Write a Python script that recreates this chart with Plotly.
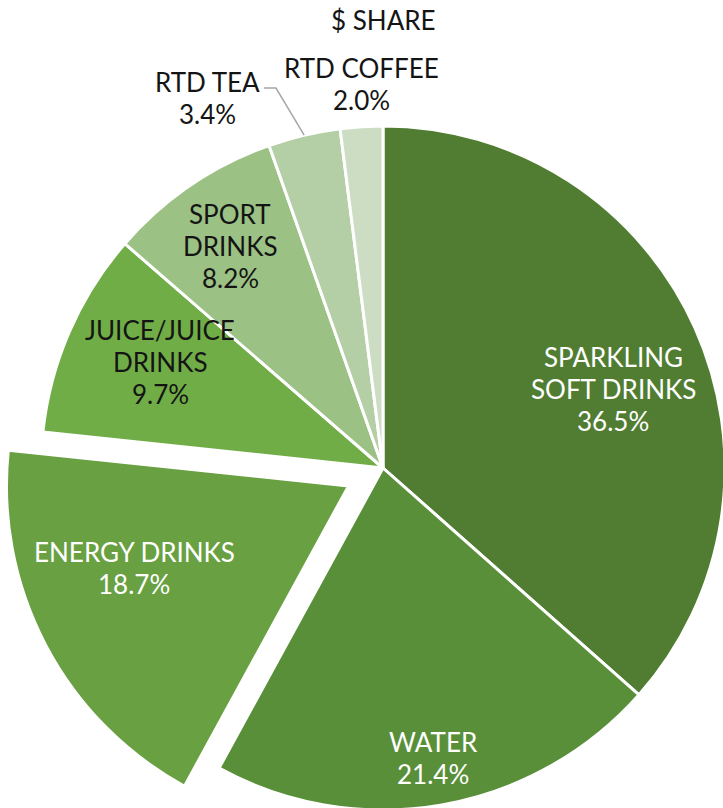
import math
import plotly.graph_objects as go

# Beverage category dollar share (%)
categories = ["SPARKLING<br>SOFT DRINKS", "WATER", "ENERGY DRINKS", "JUICE/JUICE<br>DRINKS",
              "SPORT<br>DRINKS", "RTD TEA", "RTD COFFEE"]
shares = [36.5, 21.4, 18.7, 9.7, 8.2, 3.4, 2.0]
pulls = [0, 0, 0.114, 0, 0, 0, 0]

colors = ["#507D32", "#5A8F3A", "#68A042", "#70AD47", "#9BC184", "#B4CEA6", "#CCDDC4"]
label_colors = ["#FFFFFF", "#FFFFFF", "#FFFFFF", "#141414", "#141414", "#141414", "#141414"]

# Canvas and pie geometry (pixels)
W, H = 766, 851
CX, CY, R = 383, 468, 342
half = R * (1 + max(pulls))

FONT = "Lato"
FS = 26
LINE = 32

# label anchor (centre x, first line y) for each category, in pixels
label_pos = [(613, 357), (433, 742), (134, 552), (160, 330), (230, 214), (207, 82), (361, 68)]


def px(x):
    return x / W


def py(y):
    return 1 - y / H


fig = go.Figure(go.Pie(
    labels=[c.replace("<br>", " ") for c in categories],
    values=shares,
    sort=False,
    direction="clockwise",
    rotation=0,
    pull=pulls,
    marker=dict(colors=colors, line=dict(color="#FFFFFF", width=3)),
    textinfo="none",
    hoverinfo="label+percent",
    showlegend=False,
    domain=dict(x=[px(CX - half), px(CX + half)], y=[py(CY + half), py(CY - half)]),
))

annotations = []
for cat, val, col, (lx, ly) in zip(categories, shares, label_colors, label_pos):
    lines = cat.split("<br>") + [f"{val:.1f}%"]
    for i, t in enumerate(lines):
        annotations.append(dict(
            x=px(lx), y=py(ly + i * LINE), xref="paper", yref="paper",
            text=t, showarrow=False, xanchor="center", yanchor="middle",
            font=dict(family=FONT, size=FS, color=col, weight=400),
        ))

annotations.append(dict(
    x=px(383), y=py(20), xref="paper", yref="paper", text="$ SHARE",
    showarrow=False, xanchor="center", yanchor="middle",
    font=dict(family=FONT, size=FS, color="#141414", weight=400),
))

# leader line from the RTD TEA label to the middle of its slice edge
before = sum(shares[:5])
mid = (before + shares[5] / 2) / sum(shares) * 2 * math.pi
tip_x = CX + R * math.sin(mid)
tip_y = CY - R * math.cos(mid)
path = (f"M {px(264)},{py(88)} L {px(276)},{py(88)} "
        f"L {px(tip_x)},{py(tip_y)}")

fig.update_layout(
    width=W, height=H,
    margin=dict(l=0, r=0, t=0, b=0),
    paper_bgcolor="#FFFFFF",
    plot_bgcolor="#FFFFFF",
    annotations=annotations,
    shapes=[dict(type="path", path=path, xref="paper", yref="paper",
                 line=dict(color="#A6A6A6", width=1.5))],
)

fig.write_html(
    "out.html",
    post_script="document.documentElement.style.overflow='hidden';"
                "document.body.style.overflow='hidden';",
)
